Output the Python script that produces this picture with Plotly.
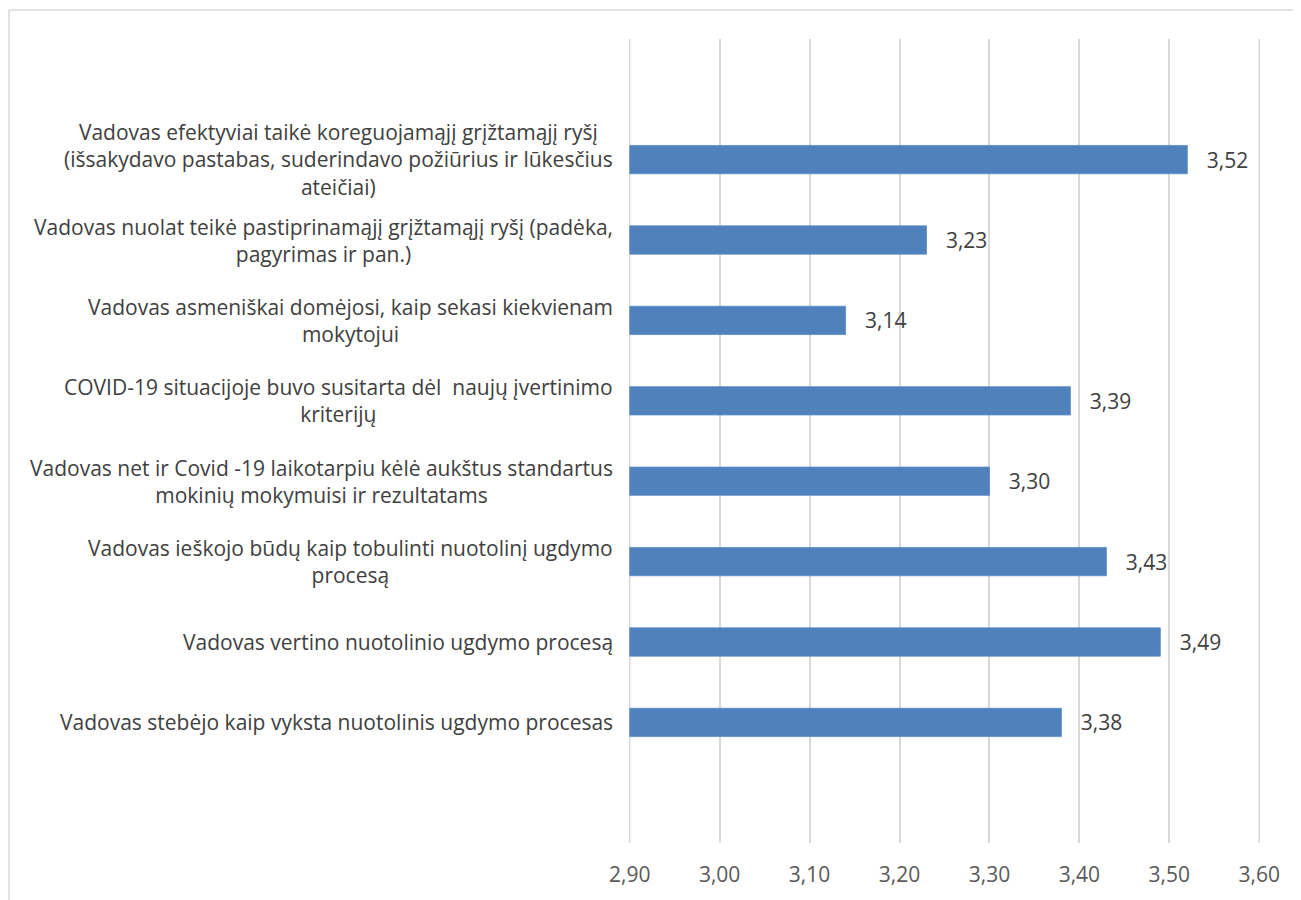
import plotly.graph_objects as go

categories = [
    "Vadovas stebėjo kaip vyksta nuotolinis ugdymo procesas",
    "Vadovas vertino nuotolinio ugdymo procesą",
    "Vadovas ieškojo būdų kaip tobulinti nuotolinį ugdymo<br>procesą",
    "Vadovas net ir Covid -19 laikotarpiu kėlė aukštus standartus<br>mokinių mokymuisi ir rezultatams",
    "COVID-19 situacijoje buvo susitarta dėl  naujų įvertinimo<br>kriterijų",
    "Vadovas asmeniškai domėjosi, kaip sekasi kiekvienam<br>mokytojui",
    "Vadovas nuolat teikė pastiprinamąjį grįžtamąjį ryšį (padėka,<br>pagyrimas ir pan.)",
    "Vadovas efektyviai taikė koreguojamąjį grįžtamąjį ryšį<br>(išsakydavo pastabas, suderindavo požiūrius ir lūkesčius<br>ateičiai)",
]
values = [3.38, 3.49, 3.43, 3.30, 3.39, 3.14, 3.23, 3.52]
tick_vals = [2.9, 3.0, 3.1, 3.2, 3.3, 3.4, 3.5, 3.6]

FONT = "Open Sans"
FS = 21
W, H = 1293, 892
ML, MR, MT, MB = 621, 41, 31, 55
PW, PH = W - ML - MR, H - MT - MB

positions = list(range(len(categories)))

fig = go.Figure()
fig.add_trace(go.Bar(
    x=[v - 2.9 for v in values],
    base=2.9,
    y=positions,
    orientation="h",
    marker=dict(color="#4f81bd", line=dict(color="#5b8cc7", width=0.8)),
    width=0.352,
    text=[f"\u00a0\u00a0\u00a0{v:.2f}".replace(".", ",") for v in values],
    textposition="outside",
    textfont=dict(family=FONT, size=FS, color="#404040"),
    cliponaxis=False,
    hoverinfo="skip",
))

for p, c in zip(positions, categories):
    fig.add_annotation(
        x=0, xref="paper", y=p, yref="y",
        text=c, showarrow=False, xanchor="right", yanchor="middle",
        xshift=-14, align="center",
        font=dict(family=FONT, size=FS, color="#404040"),
    )

# gridlines at the range ends (plotly hides these)
for tv in (tick_vals[0], tick_vals[-1]):
    fig.add_shape(type="line", xref="x", yref="paper",
                  x0=tv, x1=tv, y0=0, y1=1, layer="below",
                  line=dict(color="#d9d9d9", width=1.5))

# chart frame (top and left edges visible)
top_y = (H - MB - 2) / PH
left_x = (1 - ML) / PW
fig.add_shape(type="line", xref="paper", yref="paper",
              x0=left_x, x1=1.2, y0=top_y, y1=top_y,
              line=dict(color="#d9d9d9", width=1.5))
fig.add_shape(type="line", xref="paper", yref="paper",
              x0=left_x, x1=left_x, y0=top_y, y1=-0.2,
              line=dict(color="#d9d9d9", width=1.5))

fig.update_layout(
    width=W, height=H,
    margin=dict(l=ML, r=MR, t=MT, b=MB),
    plot_bgcolor="white", paper_bgcolor="white",
    separators=", ",
    showlegend=False,
    xaxis=dict(
        range=[2.8992, 3.6008], tickvals=tick_vals, tickformat=".2f",
        showgrid=True, gridcolor="#d9d9d9", gridwidth=1.5,
        zeroline=False, showline=False, ticks="",
        ticklabelstandoff=17,
        tickfont=dict(family=FONT, size=FS, color="#595959"),
    ),
    yaxis=dict(
        range=[-1.5, 8.5], showticklabels=False, showgrid=False,
        zeroline=False, showline=False, ticks="",
    ),
)

fig.write_html("out.html")
